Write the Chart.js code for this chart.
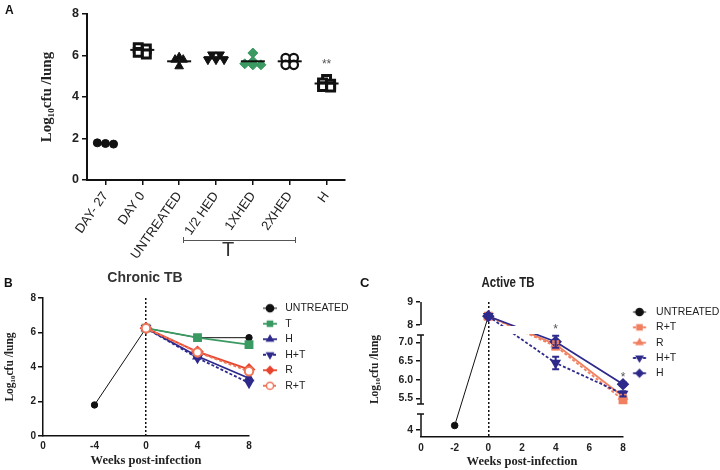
<!DOCTYPE html>
<html><head><meta charset="utf-8">
<script src="https://cdn.jsdelivr.net/npm/chart.js@4/dist/chart.umd.min.js"></script>
<style>
html,body{margin:0;padding:0;background:#fff;}
body{width:720px;height:470px;position:relative;overflow:hidden;font-family:'Liberation Sans',Arial,sans-serif;color:#222;}
canvas{position:absolute;}
.pl{position:absolute;font-weight:bold;color:#111;}
.ttl{position:absolute;text-align:center;font-weight:bold;color:#333;white-space:nowrap;}
</style></head><body>
<canvas id="cA" width="360" height="275" style="left:0;top:0;width:360px;height:275px"></canvas>
<canvas id="cB" width="375" height="215" style="left:0;top:255px;width:375px;height:215px"></canvas>
<canvas id="cC" width="380" height="208" style="left:360px;top:262px;width:380px;height:208px"></canvas>
<div class="pl" style="left:5px;top:3px;font-size:12px">A</div>
<div style="position:absolute;left:183px;top:237px;width:111px;height:6px;border-left:1.5px solid #555;border-right:1.5px solid #555;"><div style="position:absolute;left:0;right:0;top:2.5px;border-top:1.5px solid #555;"></div></div>
<div style="position:absolute;left:213px;top:239px;width:30px;text-align:center;font-size:20px;line-height:20px;color:#333;">T</div>
<div class="pl" style="left:4px;top:276px;font-size:12px">B</div>
<div class="ttl" style="left:85px;top:268px;width:120px;font-size:14px;line-height:18px;">Chronic TB</div>
<div class="pl" style="left:360px;top:275px;font-size:13px">C</div>
<div class="ttl" style="left:448px;top:273px;width:120px;font-size:14px;line-height:18px;color:#222;transform:scaleX(0.82);transform-origin:50% 50%;">Active TB</div>
<script>
// ---------------- DATA ----------------
// Panel A
const groupsA = ['DAY- 27', 'DAY 0', 'UNTREATED', '1/2 HED', '1XHED', '2XHED', 'H'];
const day27A = [1.79, 1.76, 1.73];
const day0A = [6.38, 6.32, 6.15, 6.07];
const untreatedA = [5.92, 5.8, 5.8, 5.48];
const halfHedA = [6.05, 6.05, 5.8, 5.8, 5.8];
const oneHedA = [6.12, 5.72, 5.55, 5.55, 5.6];
const twoHedA = [5.88, 5.88, 5.55, 5.55];
const hA = [4.85, 4.68, 4.62, 4.5, 4.48];
const meansA = [1.76, 6.27, 5.72, 5.92, 5.72, 5.72, 4.65];
const yTicksA = [0, 2, 4, 6, 8];
const starsA = [{x: 6, y: 5.58, t: '**'}];

// Panel B (Chronic TB)
const weeksB = [-4, 0, 4, 8];
const xTicksB = [-8, -4, 0, 4, 8];
const xLabelsB = ['0', '-4', '0', '4', '8'];
const yTicksB = [0, 2, 4, 6, 8];
const untreatedB = [1.8, 6.25, 5.7, 5.7];
const tB = [null, 6.25, 5.7, 5.3];
const hB = [null, 6.25, 4.62, 3.35];
const htB = [null, 6.25, 4.52, 3.08];
const rB = [null, 6.25, 4.88, 3.86];
const rtB = [null, 6.25, 4.85, 3.75];

// Panel C (Active TB)
const weeksC = [-2, 0, 4, 8];
const xTicksC = [-4, -2, 0, 2, 4, 6, 8];
const xLabelsC = ['0', '-2', '0', '2', '4', '6', '8'];
const yTicksC = [4, 5.5, 6, 6.5, 7, 8, 9];
const yLabelsC = ['4', '5.5', '6.0', '6.5', '7.0', '8', '9'];
const untreatedC = [4.2, 8.38, null, null];
const rtC = [null, 8.38, 6.9, 5.46];
const rtErrC = [0, 0, 0.08, 0.08];
const rC = [null, 8.38, 6.95, 5.55];
const rErrC = [0, 0, 0.08, 0.05];
const htC = [null, 8.38, 6.45, 5.62];
const htErrC = [0, 0, 0.17, 0.07];
const hC = [null, 8.38, 7.02, 5.88];
const hErrC = [0, 0, 0.16, 0.05];
const starsC = [{x: 4, y: 7.62, t: '*'}, {x: 8, y: 6.05, t: '*'}];
// broken y axis of panel C: value ranges and their share of the axis
const yBreaksC = [
  {min: 3.7, max: 4.7, from: 0, to: 23 / 135},
  {min: 5.35, max: 7.2, from: 33 / 135, to: 102 / 135},
  {min: 8, max: 9, from: 112 / 135, to: 1}
];

// ---------------- HELPERS ----------------
const SANS = "'Liberation Sans', Arial, sans-serif";
const SERIF = "'Liberation Serif', 'Times New Roman', serif";
Chart.defaults.font.family = SANS;
Chart.defaults.color = '#222';

const NAVY = '#2e2a8c', GREEN = '#3a9a62', RED = '#e8442e', ORANGE_B = '#f0765a', ORANGE_C = '#f08060';
const Y_TITLE = 'Log\u2081\u2080cfu /lung';
const LEG_FONT = 10.5;

function pts(xs, ys) { return xs.map((x, i) => ({x: x, y: ys[i]})); }

function spread(values, gi, step) {
  const sorted = values.map(v => v).sort((a, b) => b - a);
  const clusters = [];
  sorted.forEach(v => {
    const c = clusters[clusters.length - 1];
    if (c && c[0] - v < 0.1) c.push(v); else clusters.push([v]);
  });
  const out = [];
  clusters.forEach(c => c.forEach((v, j) => out.push({x: gi + (j - (c.length - 1) / 2) * step, y: v})));
  return out;
}

function drawMarker(g, style, x, y, r, rot, fill, stroke, bw) {
  g.save(); g.translate(x, y); g.rotate((rot || 0) * Math.PI / 180);
  g.beginPath();
  if (style === 'circle') g.arc(0, 0, r, 0, Math.PI * 2);
  else if (style === 'rect') { const s = r * Math.SQRT1_2; g.rect(-s, -s, 2 * s, 2 * s); }
  else if (style === 'rectRot') { g.moveTo(0, -r); g.lineTo(r, 0); g.lineTo(0, r); g.lineTo(-r, 0); g.closePath(); }
  else if (style === 'triangle') {
    for (let k = 0; k < 3; k++) { const a = k * 2 * Math.PI / 3; const px = Math.sin(a) * r, py = -Math.cos(a) * r; if (k) g.lineTo(px, py); else g.moveTo(px, py); }
    g.closePath();
  }
  g.fillStyle = fill; g.fill(); g.strokeStyle = stroke; g.lineWidth = bw; g.stroke();
  g.restore();
}

function makeIcon(W, x0, x1, color, dash, style, rot, filled, lw) {
  const c = document.createElement('canvas'); c.width = W; c.height = 12;
  const g = c.getContext('2d');
  g.strokeStyle = color; g.lineWidth = lw; g.setLineDash(dash || []);
  g.beginPath(); g.moveTo(x0, 6); g.lineTo(x1, 6); g.stroke();
  g.setLineDash([]);
  drawMarker(g, style, (x0 + x1) / 2, 6, 3.6, rot, filled ? color : '#fff', color, 1.5);
  return c;
}

function iconLabels(chart) {
  return chart.data.datasets.filter(ds => ds.legendIcon).map(ds => ({
    text: ds.label, datasetIndex: chart.data.datasets.indexOf(ds), pointStyle: ds.legendIcon,
    fillStyle: 'rgba(0,0,0,0)', strokeStyle: 'rgba(0,0,0,0)', lineWidth: 0, fontColor: '#222', hidden: false
  }));
}

// right padding so that the plot area ends where wanted, given the legend's own width
function padRightFor(canvasW, plotRight, iconW, pad, labels) {
  const g = document.createElement('canvas').getContext('2d');
  g.font = LEG_FONT + 'px ' + SANS;
  const tw = Math.max.apply(null, labels.map(t => g.measureText(t).width));
  const legendW = pad + iconW + LEG_FONT / 2 + tw + 10;
  return Math.max(0, canvasW - plotRight - legendW);
}

function textMarks(items, font, color) {
  return {
    id: 'textMarks',
    afterDatasetsDraw(chart) {
      const ctx = chart.ctx, xs = chart.scales.x, ys = chart.scales.y;
      ctx.save(); ctx.font = font; ctx.fillStyle = color; ctx.textAlign = 'center'; ctx.textBaseline = 'middle';
      items.forEach(it => ctx.fillText(it.t, xs.getPixelForValue(it.x), ys.getPixelForValue(it.y)));
      ctx.restore();
    }
  };
}

const errorBars = {
  id: 'errorBars',
  afterDatasetsDraw(chart) {
    const ctx = chart.ctx, xs = chart.scales.x, ys = chart.scales.y;
    chart.data.datasets.forEach(ds => {
      if (!ds.errorBars) return;
      ctx.save(); ctx.strokeStyle = ds.borderColor; ctx.lineWidth = 2; ctx.setLineDash([]);
      ds.data.forEach((p, i) => {
        const e = ds.errorBars[i];
        if (!e || p.y == null) return;
        const x = xs.getPixelForValue(p.x), y1 = ys.getPixelForValue(p.y + e), y2 = ys.getPixelForValue(p.y - e);
        ctx.beginPath();
        ctx.moveTo(x, y1); ctx.lineTo(x, y2);
        ctx.moveTo(x - 3.5, y1); ctx.lineTo(x + 3.5, y1);
        ctx.moveTo(x - 3.5, y2); ctx.lineTo(x + 3.5, y2);
        ctx.stroke();
      });
      ctx.restore();
    });
  }
};

const gapClip = {
  id: 'gapClip',
  beforeDatasetDraw(chart, args) {
    if (chart.data.datasets[args.index].noGapClip) return;
    const ys = chart.scales.y, a = chart.chartArea, ctx = chart.ctx;
    const top = ys.getPixelForValue(yBreaksC[2].min), bot = ys.getPixelForValue(yBreaksC[1].max);
    ctx.save(); ctx.beginPath();
    ctx.rect(0, 0, chart.width, chart.height);
    ctx.rect(a.left - 10, top + 1, a.width + 20, bot - top - 2);
    ctx.clip('evenodd');
  },
  afterDatasetDraw(chart, args) {
    if (chart.data.datasets[args.index].noGapClip) return;
    chart.ctx.restore();
  }
};

class BrokenLinearScale extends Chart.LinearScale {
  _frac(v) {
    const s = yBreaksC;
    for (let i = 0; i < s.length; i++) {
      const g = s[i];
      if (v <= g.max || i === s.length - 1) {
        if (v >= g.min || i === 0) return g.from + (v - g.min) / (g.max - g.min) * (g.to - g.from);
        const p = s[i - 1];
        return p.to + (v - p.max) / (g.min - p.max) * (g.from - p.to);
      }
    }
    return 0;
  }
  getPixelForValue(v) { return this.bottom - this._frac(v) * (this.bottom - this.top); }
  getValueForPixel(px) {
    const f = (this.bottom - px) / (this.bottom - this.top), s = yBreaksC;
    for (let i = 0; i < s.length; i++) {
      const g = s[i];
      if (f <= g.to || i === s.length - 1) {
        if (f >= g.from || i === 0) return g.min + (f - g.from) / (g.to - g.from) * (g.max - g.min);
        const p = s[i - 1];
        return p.max + (f - p.to) / (g.from - p.to) * (g.min - p.max);
      }
    }
    return 0;
  }
  drawBorder() {
    const ctx = this.ctx, x = this.right;
    ctx.save(); ctx.strokeStyle = '#111'; ctx.lineWidth = 1.5;
    yBreaksC.forEach((g, i) => {
      const y1 = this.getPixelForValue(g.max), y2 = i === 0 ? this.bottom : this.getPixelForValue(g.min);
      ctx.beginPath(); ctx.moveTo(x, y1); ctx.lineTo(x, y2); ctx.stroke();
      [g.max, g.min].forEach(v => {
        if (i === 0 && v === g.min) return;
        if (yTicksC.indexOf(v) >= 0) return;
        const y = this.getPixelForValue(v);
        ctx.beginPath(); ctx.moveTo(x - 4, y); ctx.lineTo(x + 3, y); ctx.stroke();
      });
    });
    ctx.restore();
  }
}
BrokenLinearScale.id = 'brokenLinear';
Chart.register(BrokenLinearScale);

const zeroLine = c => (c.tick && c.tick.value === 0) ? '#111' : 'rgba(0,0,0,0)';

// ---------------- PANEL A ----------------
const valuesA = [day27A, day0A, untreatedA, halfHedA, oneHedA, twoHedA, hA];
const stylesA = [
  {pointStyle: 'circle', pointRadius: 4, pointBackgroundColor: '#111', pointBorderColor: '#111', pointBorderWidth: 1},
  {pointStyle: 'rect', pointRadius: 5.6, pointBackgroundColor: '#fff', pointBorderColor: '#111', pointBorderWidth: 3},
  {pointStyle: 'triangle', pointRadius: 5, pointBackgroundColor: '#111', pointBorderColor: '#111', pointBorderWidth: 1},
  {pointStyle: 'triangle', pointRotation: 180, pointRadius: 5, pointBackgroundColor: '#111', pointBorderColor: '#111', pointBorderWidth: 1},
  {pointStyle: 'rectRot', pointRadius: 5, pointBackgroundColor: GREEN, pointBorderColor: GREEN, pointBorderWidth: 1},
  {pointStyle: 'circle', pointRadius: 4.2, pointBackgroundColor: '#fff', pointBorderColor: '#111', pointBorderWidth: 2.2},
  {pointStyle: 'rect', pointRadius: 5.6, pointBackgroundColor: '#fff', pointBorderColor: '#111', pointBorderWidth: 3}
];
const datasetsA = [{
  label: 'mean', data: meansA.map((m, i) => ({x: i, y: m})),
  pointStyle: 'line', pointRadius: 12, pointBorderWidth: 2, pointBorderColor: '#111', clip: false
}].concat(valuesA.map((vals, gi) => Object.assign({
  label: groupsA[gi], data: spread(vals, gi, 0.22), clip: false
}, stylesA[gi])));

new Chart(document.getElementById('cA'), {
  type: 'scatter',
  data: {datasets: datasetsA},
  options: {
    responsive: false, animation: false,
    layout: {padding: {left: 38, top: 11, right: 15, bottom: 0}},
    plugins: {legend: {display: false}, tooltip: {enabled: false}},
    scales: {
      x: {
        type: 'linear', min: -0.5, max: 6.5,
        afterBuildTicks: s => { s.ticks = groupsA.map((g, i) => ({value: i})); },
        ticks: {callback: v => groupsA[v], autoSkip: false, minRotation: 55, maxRotation: 55, font: {size: 13}, color: '#222', padding: 4},
        grid: {drawOnChartArea: false, drawTicks: true, tickLength: 5, color: '#111', lineWidth: 1.5},
        border: {color: '#111', width: 2},
        afterFit: s => { s.height = 95; }
      },
      y: {
        min: 0, max: 8,
        afterBuildTicks: s => { s.ticks = yTicksA.map(v => ({value: v})); },
        ticks: {font: {size: 12.5, weight: 'bold'}, color: '#222', padding: 3},
        grid: {drawOnChartArea: false, drawTicks: true, tickLength: 5, color: '#111', lineWidth: 1.5},
        border: {color: '#111', width: 2},
        title: {display: true, text: Y_TITLE, font: {family: SERIF, size: 15, weight: 'bold'}, color: '#222', padding: 0},
        afterFit: s => { s.width = 49; }
      }
    }
  },
  plugins: [textMarks(starsA, '12px ' + SANS, '#555')]
});

// ---------------- PANEL B ----------------
const LEG_PAD_B = 5, ICON_W_B = 26;
function iconB(color, dash, style, rot, filled, lw) { return makeIcon(ICON_W_B, 9, 23, color, dash, style, rot, filled, lw); }
const dsB = [
  {label: 'UNTREATED', data: pts(weeksB, untreatedB), borderColor: '#111', backgroundColor: '#111', borderWidth: 1,
   pointStyle: 'circle', pointRadius: 3.2, order: 5, clip: false, legendIcon: iconB('#111', [], 'circle', 0, true, 1)},
  {label: 'T', data: pts(weeksB, tB), borderColor: GREEN, backgroundColor: GREEN, borderWidth: 1.8,
   pointStyle: 'rect', pointRadius: 5, order: 4, clip: false, legendIcon: iconB(GREEN, [], 'rect', 0, true, 1.8)},
  {label: 'H', data: pts(weeksB, hB), borderColor: NAVY, backgroundColor: NAVY, borderWidth: 1.8,
   pointStyle: 'triangle', pointRadius: 4.5, order: 3, clip: false, legendIcon: iconB(NAVY, [], 'triangle', 0, true, 1.8)},
  {label: 'H+T', data: pts(weeksB, htB), borderColor: NAVY, backgroundColor: NAVY, borderWidth: 1.8, borderDash: [3, 2],
   pointStyle: 'triangle', pointRotation: 180, pointRadius: 4.5, order: 2, clip: false, legendIcon: iconB(NAVY, [3, 2], 'triangle', 180, true, 1.8)},
  {label: 'R', data: pts(weeksB, rB), borderColor: RED, backgroundColor: RED, borderWidth: 2,
   pointStyle: 'rectRot', pointRadius: 5, order: 1, clip: false, legendIcon: iconB(RED, [], 'rectRot', 0, true, 1.8)},
  {label: 'R+T', data: pts(weeksB, rtB), borderColor: ORANGE_B, backgroundColor: '#fff', borderWidth: 1.8, borderDash: [3, 2],
   pointStyle: 'circle', pointRadius: 4.2, pointBorderWidth: 2, order: 0, clip: false, legendIcon: iconB(ORANGE_B, [3, 2], 'circle', 0, false, 1.8)}
];
new Chart(document.getElementById('cB'), {
  type: 'line',
  data: {datasets: dsB},
  options: {
    responsive: false, animation: false,
    layout: {padding: {left: 3, top: 43, right: padRightFor(375, 249, ICON_W_B, LEG_PAD_B, dsB.map(d => d.label)), bottom: 0}},
    plugins: {
      legend: {position: 'right', align: 'start', maxWidth: 400,
        labels: {usePointStyle: true, pointStyleWidth: ICON_W_B, padding: LEG_PAD_B, font: {size: LEG_FONT}, color: '#222', generateLabels: iconLabels}},
      tooltip: {enabled: false}
    },
    scales: {
      x: {
        type: 'linear', min: -8, max: 8,
        afterBuildTicks: s => { s.ticks = xTicksB.map(v => ({value: v})); },
        ticks: {callback: v => xLabelsB[xTicksB.indexOf(v)], autoSkip: false, maxRotation: 0, font: {size: 10, weight: 'bold'}, color: '#222', padding: 4},
        grid: {drawTicks: false, color: zeroLine, lineWidth: 1.5},
        border: {color: '#111', width: 1.5, dash: [2, 2]},
        title: {display: true, text: 'Weeks post-infection', font: {family: SERIF, size: 12.5, weight: 'bold'}, color: '#222', padding: {top: 0, bottom: 1.5}},
        afterFit: s => { s.height = 34; }
      },
      y: {
        min: 0, max: 8,
        afterBuildTicks: s => { s.ticks = yTicksB.map(v => ({value: v})); },
        ticks: {font: {size: 10, weight: 'bold'}, color: '#222', padding: 2},
        grid: {drawOnChartArea: false, drawTicks: true, tickLength: 5, color: '#111', lineWidth: 1.5},
        border: {color: '#111', width: 1.5},
        title: {display: true, text: Y_TITLE, font: {family: SERIF, size: 11.5, weight: 'bold'}, color: '#222', padding: 0},
        afterFit: s => { s.width = 40; }
      }
    }
  }
});

// ---------------- PANEL C ----------------
const LEG_PAD_C = 4.8, ICON_W_C = 23;
function iconC(color, dash, style, rot, filled, lw) { return makeIcon(ICON_W_C, 5.2, 18.2, color, dash, style, rot, filled, lw); }
const dsC = [
  {label: 'UNTREATED', data: pts(weeksC, untreatedC), borderColor: '#111', backgroundColor: '#111', borderWidth: 1,
   pointStyle: 'circle', pointRadius: 3.3, order: 4, clip: false, noGapClip: true, legendIcon: iconC('#111', [], 'circle', 0, true, 1)},
  {label: 'R+T', data: pts(weeksC, rtC), errorBars: rtErrC, borderColor: ORANGE_C, backgroundColor: ORANGE_C, borderWidth: 1.8, borderDash: [3, 2],
   pointStyle: 'rect', pointRadius: 5, order: 3, clip: false, legendIcon: iconC(ORANGE_C, [3, 2], 'rect', 0, true, 1.8)},
  {label: 'R', data: pts(weeksC, rC), errorBars: rErrC, borderColor: ORANGE_C, backgroundColor: ORANGE_C, borderWidth: 1.8,
   pointStyle: 'triangle', pointRadius: 4.5, order: 2, clip: false, legendIcon: iconC(ORANGE_C, [], 'triangle', 0, true, 1.8)},
  {label: 'H+T', data: pts(weeksC, htC), errorBars: htErrC, borderColor: NAVY, backgroundColor: NAVY, borderWidth: 1.8, borderDash: [3, 2],
   pointStyle: 'triangle', pointRotation: 180, pointRadius: 4.5, order: 1, clip: false, legendIcon: iconC(NAVY, [3, 2], 'triangle', 180, true, 1.8)},
  {label: 'H', data: pts(weeksC, hC), errorBars: hErrC, borderColor: NAVY, backgroundColor: NAVY, borderWidth: 1.8,
   pointStyle: 'rectRot', pointRadius: 5, order: 0, clip: false, legendIcon: iconC(NAVY, [], 'rectRot', 0, true, 1.8)}
];
new Chart(document.getElementById('cC'), {
  type: 'line',
  data: {datasets: dsC},
  options: {
    responsive: false, animation: false,
    layout: {padding: {left: 8, top: 40, right: padRightFor(380, 263, ICON_W_C, LEG_PAD_C, dsC.map(d => d.label)), bottom: 0}},
    plugins: {
      legend: {position: 'right', align: 'start', maxWidth: 400,
        labels: {usePointStyle: true, pointStyleWidth: ICON_W_C, padding: LEG_PAD_C, font: {size: LEG_FONT}, color: '#222', generateLabels: iconLabels}},
      tooltip: {enabled: false}
    },
    scales: {
      x: {
        type: 'linear', min: -4, max: 8,
        afterBuildTicks: s => { s.ticks = xTicksC.map(v => ({value: v})); },
        ticks: {callback: v => xLabelsC[xTicksC.indexOf(v)], autoSkip: false, maxRotation: 0, font: {size: 10, weight: 'bold'}, color: '#222', padding: 5},
        grid: {drawTicks: false, color: zeroLine, lineWidth: 1.5},
        border: {color: '#111', width: 1.5, dash: [2, 2]},
        title: {display: true, text: 'Weeks post-infection', font: {family: SERIF, size: 12.5, weight: 'bold'}, color: '#222', padding: {top: 0, bottom: 0.5}},
        afterFit: s => { s.height = 33; }
      },
      y: {
        type: 'brokenLinear', min: 3.7, max: 9,
        afterBuildTicks: s => { s.ticks = yTicksC.map(v => ({value: v})); },
        ticks: {callback: v => yLabelsC[yTicksC.indexOf(v)], autoSkip: false, font: {size: 10.5, weight: 'bold'}, color: '#222', padding: 3},
        grid: {drawOnChartArea: false, drawTicks: true, tickLength: 5, color: '#111', lineWidth: 1.5},
        border: {color: '#111', width: 1.5},
        title: {display: true, text: Y_TITLE, font: {family: SERIF, size: 11.5, weight: 'bold'}, color: '#222', padding: 0},
        afterFit: s => { s.width = 53; }
      }
    }
  },
  plugins: [gapClip, errorBars, textMarks(starsC, '12px ' + SANS, '#555')]
});
</script>
</body></html>
